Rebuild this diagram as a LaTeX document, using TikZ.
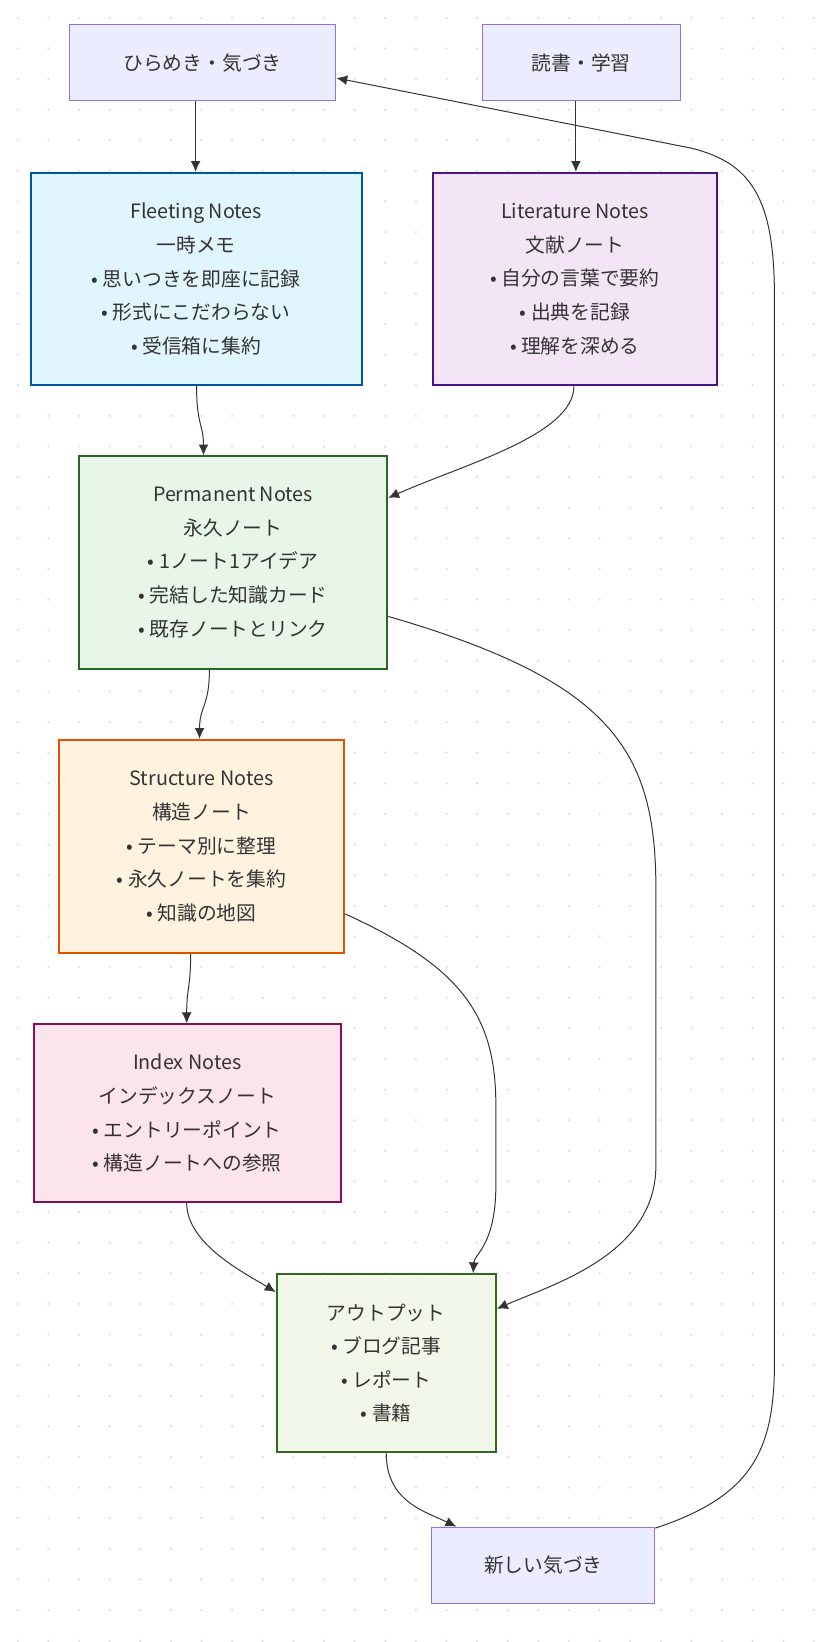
\documentclass[tikz,border=0pt]{standalone}
\usepackage{fontspec}
\setmainfont{Noto Sans CJK JP}
\usetikzlibrary{positioning, arrows.meta}
\definecolor{lavfill}{HTML}{ECECFF}
\definecolor{lavdraw}{HTML}{9370DB}
\begin{document}
\begin{tikzpicture}[
    x=1pt, y=-1pt,
    every node/.style={font=\fontsize{20}{34}\selectfont, text=black!80, align=center, inner sep=0pt},
    box/.style={line width=2pt, rectangle},
    src/.style={draw=lavdraw, fill=lavfill, line width=1pt, rectangle},
    flow/.style={draw=black!80, line width=1pt, -{Latex[length=11pt, width=10pt]}}
]
   % background dots
   \fill[white] (0,0) rectangle (813,1642);
   \foreach \i in {0,...,26} \foreach \j in {0,...,53}
      \fill[black!12] (18+\i*31, 18+\j*31) circle (1.3);

   % Sources
   \node[src, minimum width=270, minimum height=77] (idea) at (205,63.5) {ひらめき・気づき};
   \node[src, minimum width=201, minimum height=77] (read) at (588.5,63.5) {読書・学習};

   % Notes
   \node[box, fill={rgb,255:red,225;green,245;blue,254}, draw={rgb,255:red,1;green,87;blue,155}, minimum width=335, minimum height=215] (fleet) at (198.5,282.5) {Fleeting Notes\\一時メモ\\• 思いつきを即座に記録\\• 形式にこだわらない\\• 受信箱に集約};
   \node[box, fill={rgb,255:red,243;green,229;blue,245}, draw={rgb,255:red,74;green,20;blue,140}, minimum width=288, minimum height=215] (lit) at (582,282.5) {Literature Notes\\文献ノート\\• 自分の言葉で要約\\• 出典を記録\\• 理解を深める};
   \node[box, fill={rgb,255:red,232;green,245;blue,233}, draw={rgb,255:red,46;green,100;blue,40}, minimum width=312, minimum height=215] (perm) at (236,569.5) {Permanent Notes\\永久ノート\\• 1ノート1アイデア\\• 完結した知識カード\\• 既存ノートとリンク};
   \node[box, fill={rgb,255:red,255;green,243;blue,224}, draw={rgb,255:red,230;green,81;blue,0}, minimum width=288, minimum height=216] (struct) at (204,857) {Structure Notes\\構造ノート\\• テーマ別に整理\\• 永久ノートを集約\\• 知識の地図};
   \node[box, fill={rgb,255:red,252;green,228;blue,236}, draw={rgb,255:red,136;green,14;blue,79}, minimum width=311, minimum height=180] (index) at (189.5,1127) {Index Notes\\インデックスノート\\• エントリーポイント\\• 構造ノートへの参照};
   \node[box, fill={rgb,255:red,241;green,248;blue,233}, draw={rgb,255:red,51;green,105;blue,30}, minimum width=222, minimum height=180] (out) at (391,1380) {アウトプット\\• ブログ記事\\• レポート\\• 書籍};
   \node[src, minimum width=226, minimum height=77] (new) at (550,1584.5) {新しい気づき};

   % Flows
   \draw[flow] (idea.south -| 198,0) -- (fleet.north -| 198,0);
   \draw[flow] (read.south -| 583,0) -- (lit.north -| 583,0);
   \draw[flow] (fleet.south -| 199,0) .. controls (199,430) and (206,430) .. (perm.north -| 206,0);
   \draw[flow] (lit.south -| 581,0) .. controls (581,440) and (470,470) .. (perm.east |- 0,504);
   \draw[flow] (perm.east |- 0,624) .. controls (620,690) and (664,760) .. (664,900)
      -- (664,1180) .. controls (664,1270) and (560,1300) .. (out.east |- 0,1325);
   \draw[flow] (perm.south -| 212,0) .. controls (212,715) and (202,715) .. (struct.north -| 202,0);
   \draw[flow] (struct.south -| 193,0) .. controls (193,1000) and (189,1000) .. (index.north -| 189,0);
   \draw[flow] (struct.east |- 0,925) .. controls (470,980) and (502,1030) .. (502,1120)
      -- (502,1200) .. controls (502,1260) and (480,1270) .. (out.north -| 479,0);
   \draw[flow] (index.south -| 189,0) .. controls (189,1260) and (250,1290) .. (out.west |- 0,1308);
   \draw[flow] (out.south -| 391,0) .. controls (391,1520) and (430,1530) .. (new.north -| 462,0);
   \draw[flow] (new.east |- 0,1547) .. controls (760,1515) and (784,1470) .. (784,1380)
      -- (784,300) .. controls (784,200) and (760,165) .. (700,150)
      -- (idea.east |- 0,79);
\end{tikzpicture}
\end{document}
